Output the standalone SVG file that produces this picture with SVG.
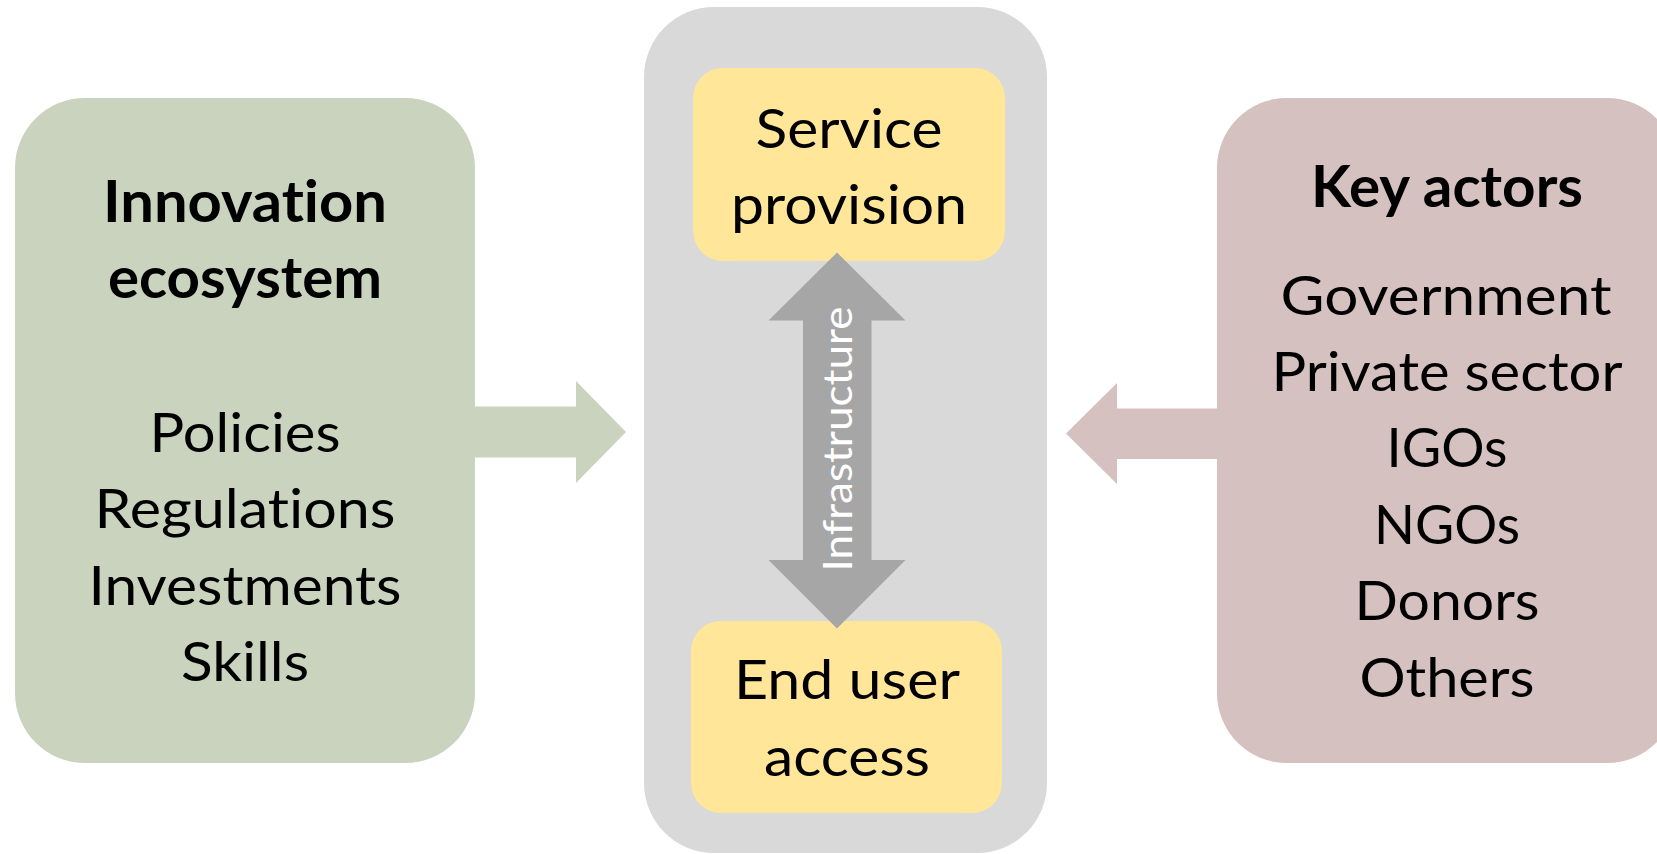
<svg xmlns="http://www.w3.org/2000/svg" width="1657" height="854" viewBox="0 0 1657 854">
<style>
  text { font-family: "Lato", "Liberation Sans", sans-serif; fill: #000; text-anchor: middle; font-variant-ligatures: none; font-feature-settings: "liga" 0, "clig" 0; }
  .title { font-size: 57px; font-weight: 700; }
  .item { font-size: 55px; font-weight: 400; }
  .infra { font-size: 40.5px; font-weight: 400; fill: #ffffff; }
  .green { fill: #c9d3be; }
  .pink { fill: #d4c1c0; }
  .grey { fill: #d9d9d9; }
  .yellow { fill: #ffe699; }
  .darrow { fill: #a6a6a6; }
</style>
<rect width="1657" height="854" fill="#ffffff"/>

<g id="center-panel">
  <rect class="grey" x="644" y="7" width="403" height="846" rx="70" ry="70"/>
</g>

<g id="service-provision">
  <rect class="yellow" x="693" y="68" width="312" height="193" rx="30" ry="30"/>
  <text class="item" x="849" y="148" textLength="187" lengthAdjust="spacingAndGlyphs">Service</text>
  <text class="item" x="849" y="224" textLength="236" lengthAdjust="spacingAndGlyphs">provision</text>
</g>

<g id="end-user-access">
  <rect class="yellow" x="691" y="621" width="311" height="192" rx="30" ry="30"/>
  <text class="item" x="847" y="699" textLength="226" lengthAdjust="spacingAndGlyphs">End user</text>
  <text class="item" x="847" y="776" textLength="166" lengthAdjust="spacingAndGlyphs">access</text>
</g>

<g id="innovation-ecosystem">
  <rect class="green" x="15" y="98" width="460" height="665" rx="70" ry="70"/>
  <text class="title" x="245" y="222" textLength="284" lengthAdjust="spacingAndGlyphs">Innovation</text>
  <text class="title" x="245" y="298" textLength="274" lengthAdjust="spacingAndGlyphs">ecosystem</text>
  <text class="item" x="245" y="452" textLength="191" lengthAdjust="spacingAndGlyphs">Policies</text>
  <text class="item" x="245" y="528" textLength="301" lengthAdjust="spacingAndGlyphs">Regulations</text>
  <text class="item" x="245" y="605" textLength="313" lengthAdjust="spacingAndGlyphs">Investments</text>
  <text class="item" x="245" y="681" textLength="128" lengthAdjust="spacingAndGlyphs">Skills</text>
</g>

<g id="key-actors">
  <rect class="pink" x="1217" y="98" width="460" height="665" rx="70" ry="70"/>
  <text class="title" x="1447" y="207" textLength="272" lengthAdjust="spacingAndGlyphs">Key actors</text>
  <text class="item" x="1446" y="315" textLength="331" lengthAdjust="spacingAndGlyphs">Government</text>
  <text class="item" x="1447" y="391" textLength="351" lengthAdjust="spacingAndGlyphs">Private sector</text>
  <text class="item" x="1447" y="467" textLength="121" lengthAdjust="spacingAndGlyphs">IGOs</text>
  <text class="item" x="1447" y="544" textLength="146" lengthAdjust="spacingAndGlyphs">NGOs</text>
  <text class="item" x="1447" y="620" textLength="185" lengthAdjust="spacingAndGlyphs">Donors</text>
  <text class="item" x="1447" y="697" textLength="175" lengthAdjust="spacingAndGlyphs">Others</text>
</g>

<g id="connectors">
  <polygon id="arrow-ecosystem" class="green" points="474,406.5 576,406.5 576,381 626,432 576,483 576,457.5 474,457.5"/>
  <polygon id="arrow-actors" class="pink" points="1218,408.5 1117,408.5 1117,383 1066,433.5 1117,484 1117,459 1218,459"/>
  <g id="arrow-infrastructure">
    <polygon class="darrow" points="837,252.5 905.5,320.5 871.5,320.5 871.5,560 905.5,560 837,628.5 768.5,560 803,560 803,320.5 768.5,320.5"/>
    <text class="infra" transform="translate(851.5,439) rotate(-90)" x="0" y="0" textLength="265" lengthAdjust="spacingAndGlyphs">Infrastructure</text>
  </g>
</g>
</svg>
